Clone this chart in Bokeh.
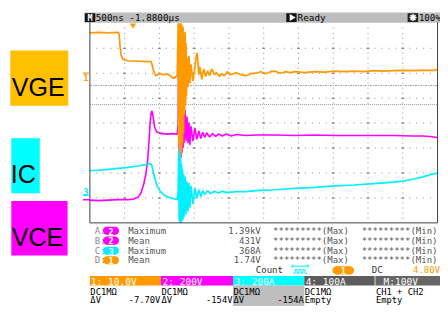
import numpy as np
from bokeh.plotting import figure
from bokeh.models import Range1d
from bokeh.embed import file_html
from bokeh.resources import INLINE
from bokeh.core.properties import value

# ---------------- data ----------------
# CH1 : VGE  (time in microseconds, volts)
ch1_time_us = [-0.621, -0.494, -0.353, -0.212, -0.198, -0.184, -0.169, -0.141, -0.071, 0.071,
               0.212, 0.254, 0.268, 0.297, 0.325, 0.381, 0.438, 0.494, 0.537, 0.579,
               0.621, 0.636,
               0.650, 0.657, 0.664, 0.671, 0.678, 0.685, 0.692, 0.699, 0.706, 0.713,
               0.720, 0.727, 0.734, 0.742, 0.749, 0.756, 0.763, 0.770, 0.777, 0.791,
               0.805, 0.819, 0.833, 0.862, 0.890, 0.918, 0.932, 0.946, 0.960, 0.989,
               1.017, 1.045, 1.073, 1.102, 1.130, 1.172, 1.201, 1.243, 1.271, 1.314,
               1.356, 1.398, 1.441, 1.483, 1.554, 1.624, 1.695, 1.766, 1.836, 1.907,
               1.977, 2.048, 2.119, 2.189, 2.260, 2.330, 2.472, 2.613, 2.754, 2.895,
               3.037, 3.178, 3.319, 3.460, 3.602, 3.743, 3.884, 4.025, 4.167, 4.308,
               4.378]
ch1_volts = [16.2, 16.4, 16.2, 16.4, 15.4, 10.1, 7.0, 5.5, 5.0, 4.8,
             4.6, 4.8, 4.0, 1.0, -1.0, -0.2, -0.6, -0.4, -1.0, -2.1,
             -1.3, -0.6,
             20.0, -28.0, 20.0, -31.8, 20.0, -33.7, 20.0, -31.8, 19.2, -28.0,
             18.5, -24.2, 15.8, -16.6, 16.6, -12.8, 12.0, -9.0, 6.3, -5.5,
             7.0, -4.0, 3.5, -3.2, 2.5, 8.2, 5.5, -0.6, 2.5, -2.5,
             1.7, -1.3, 1.0, -1.0, 1.7, -0.6, 0.2, -1.3, -0.2, -1.0,
             0.6, -0.6, -0.2, 0.2, -0.6, -1.0, -0.2, 0.0, 0.6, -0.2,
             0.6, 0.8, 0.0, 0.6, 0.2, 0.6, 0.2, 0.6, 0.4, 0.8,
             0.6, 0.8, 0.6, 1.0, 0.8, 1.0, 1.1, 1.0, 1.1, 1.1,
             1.3]

# CH2 : VCE (volts)
ch2_time_us = [-0.621, -0.494, -0.353, -0.212, -0.071, 0.000, 0.071, 0.113, 0.155, 0.184,
               0.212, 0.233, 0.247, 0.261, 0.273, 0.290, 0.311, 0.339, 0.381, 0.438,
               0.494, 0.565, 0.636,
               0.650, 0.657, 0.664, 0.671, 0.678, 0.685, 0.692, 0.699, 0.706, 0.713,
               0.720, 0.727, 0.734, 0.749, 0.763, 0.777, 0.791, 0.805, 0.819, 0.833,
               0.862, 0.890, 0.918, 0.946, 0.975, 1.003, 1.031, 1.059, 1.102, 1.144,
               1.187, 1.229, 1.285, 1.342, 1.412, 1.483, 1.624, 1.766, 2.048, 2.330,
               2.613, 2.895, 3.178, 3.460, 3.743, 4.025, 4.167, 4.266, 4.378]
ch2_volts = [-3.8, -7.6, -3.8, 0.0, 0.0, 3.8, 19.0, 49.5, 125.7, 201.9,
             323.8, 491.4, 624.0, 697.1, 712.4, 666.7, 582.9, 544.8, 533.3, 529.5,
             525.7, 529.5, 525.7,
             605.7, 1253.0, 339.0, 1383.0, 301.0, 1330.0, 339.0, 1215.0, 377.0, 1063.0,
             415.0, 910.0, 453.0, 720.0, 469.0, 667.0, 453.0, 621.0, 438.0, 590.0,
             469.0, 575.0, 484.0, 552.0, 491.0, 541.0, 499.0, 537.0, 503.0, 530.0,
             507.0, 526.0, 510.0, 526.0, 510.0, 522.0, 514.0, 518.0, 518.0, 514.0,
             518.0, 514.0, 514.0, 514.0, 514.0, 510.0, 510.0, 507.0, 499.0]

# CH3 : IC (amperes)
ch3_time_us = [-0.621, -0.494, -0.353, -0.212, -0.071, 0.071, 0.184, 0.240, 0.268, 0.297,
               0.325, 0.353, 0.395, 0.438, 0.494, 0.565, 0.636,
               0.650, 0.657, 0.664, 0.671, 0.678, 0.685, 0.692, 0.699, 0.706, 0.713,
               0.720, 0.727, 0.734, 0.749, 0.763, 0.777, 0.791, 0.805, 0.819, 0.833,
               0.862, 0.890, 0.918, 0.946, 0.975, 1.003, 1.031, 1.073, 1.116, 1.172,
               1.229, 1.285, 1.342, 1.483, 1.624, 1.766, 2.048, 2.330, 2.613, 2.895,
               3.178, 3.460, 3.743, 3.884, 4.025, 4.167, 4.308, 4.378]
ch3_amps = [198.1, 201.9, 209.5, 217.1, 224.8, 236.2, 247.6, 255.2, 247.6, 175.2,
            114.3, 68.6, 30.5, 7.6, -11.4, -22.9, -34.3,
            38.1, 342.9, -205.7, 365.7, -221.0, 304.8, -221.0, 251.4, -205.7, 205.7,
            -190.5, 175.2, -175.2, 152.4, -152.4, 114.3, -129.5, 99.0, -99.0, 76.2,
            -68.6, 61.0, -22.9, 45.7, -7.6, 38.1, 7.6, 38.1, 15.2, 34.3,
            19.0, 34.3, 22.9, 30.5, 30.5, 38.1, 45.7, 57.1, 64.8, 76.2,
            83.8, 95.2, 106.7, 114.3, 129.5, 148.6, 171.4, 179.0]

# labels / readouts
side_labels = ["VGE", "IC", "VCE"]
meas_slots = ["A:", "B:", "C:", "D:"]
meas_channels = ["2", "2", "3", "1"]
meas_types = ["Maximum", "Mean", "Maximum", "Mean"]
meas_values = ["1.39kV", "431V", "368A", "1.74V"]
meas_max = ["*********(Max)"] * 4
meas_min = ["*********(Min)"] * 4
ch_titles = ["1: 10.0V", "2:  200V", "3:  200A", "4:  100A", "M:100V"]
ch_coupling = ["DC1M\u03a9", "DC1M\u03a9", "DC1M\u03a9", "DC1M\u03a9", "CH1 + CH2"]
ch_delta = ["-7.70V", "-154V", "-154A", "Empty", "Empty"]
header_time = "500ns -1.8800\u00b5s"
header_state = "Ready"
header_zoom = "100%"
trigger_source = "1"
trigger_coupling = "DC"
trigger_level = "4.80V"

# ---------------- scope settings ----------------
TIME_PER_DIV = 0.5          # us / div
TRIG_DIV = 1.24             # trigger point, divisions from left edge
CH_SCALE = {"ch1": 10.0, "ch2": 200.0, "ch3": 200.0}
CH_GROUND_DIV = {"ch1": 2.0, "ch2": 7.07, "ch3": 6.9}

# ---------------- layout (reference pixel frame) ----------------
W_REF, H_REF = 448, 322
GX0, GX1, GY0, GY1 = 91.0, 445.0, 24.0, 234.0
NX, NY = 10, 8
DX = (GX1 - GX0) / NX
DY = (GY1 - GY0) / NY

C1 = "#FF9900"
C2 = "#FF00FF"
C3 = "#00F0FF"
MONO = "DejaVu Sans Mono"
SANS = "Liberation Sans"

p = figure(width=440, height=306, x_range=Range1d(0, W_REF), y_range=Range1d(H_REF, 0),
           x_axis_type=None, y_axis_type=None, output_backend="svg",
           toolbar_location=None, min_border=0)
p.outline_line_color = None
p.background_fill_color = "white"
p.border_fill_color = "white"

spx = TIME_PER_DIV * NX / (GX1 - GX0)
t0 = -TRIG_DIV * TIME_PER_DIV
p.extra_x_ranges = {"t": Range1d(t0 - GX0 * spx, t0 + (W_REF - GX0) * spx)}
yr = {}
for ch in ("ch1", "ch2", "ch3"):
    gpx = GY0 + CH_GROUND_DIV[ch] * DY
    upp = CH_SCALE[ch] / DY
    yr[ch] = Range1d((gpx - H_REF) * upp, gpx * upp)
p.extra_y_ranges = yr


def txt(x, y, s, color="#000", size=9, align="left", baseline="middle", font=MONO,
        bold=False, **kw):
    p.text(x=[x], y=[y], text=[s], text_color=color, text_font_size=f"{size}px",
           text_align=align, text_baseline=baseline, text_font=value(font),
           text_font_style="bold" if bold else "normal", **kw)


def pill(cx, cy, w, h, color, label):
    p.rect(x=[cx], y=[cy], width=w - h, height=h, fill_color=color, line_color=None)
    p.ellipse(x=[cx - (w - h) / 2, cx + (w - h) / 2], y=[cy, cy], width=h, height=h,
              fill_color=color, line_color=None)
    txt(cx, cy + 0.3, label, "#ffffff", 8.5, align="center", bold=True)


# ---- side labels ----
side_boxes = [(10, 69, 52.7, 110.7, "#FFC000", 11.5, 90.7),
              (11, 40, 145, 202.7, "#00FFFF", 10.5, 183),
              (11, 68.3, 211, 268.3, "#FF00FF", 11.5, 249)]
for (l, r, t, b, col, tx, ty), lab in zip(side_boxes, side_labels):
    p.quad(left=[l], right=[r], top=[t], bottom=[b], fill_color=col, line_color=None)
    txt(tx, ty, lab, "#000000", 25, baseline="alphabetic", font=SANS)

# ---- header bar ----
p.quad(left=[85], right=[W_REF], top=[12.5], bottom=[23.3], fill_color="#bdbdbd", line_color=None)
p.quad(left=[86], right=[96.5], top=[13.3], bottom=[22.7], fill_color="#111111", line_color=None)
txt(91.2, 18.2, "M", "#ffffff", 8.5, align="center", bold=True)
txt(97, 18.2, header_time, "#000000", 9.3)
p.quad(left=[291], right=[301.5], top=[13.3], bottom=[22.7], fill_color="#111111", line_color=None)
p.scatter(x=[296.5], y=[18], marker="triangle", angle=-np.pi / 2, size=7,
          fill_color="#ffffff", line_color=None)
txt(302.5, 18.2, header_state, "#000000", 9.3)
p.quad(left=[414.5], right=[425.3], top=[13.3], bottom=[22.7], fill_color="#222222", line_color=None)
p.scatter(x=[420], y=[18], marker="asterisk", size=7, line_color="#ffffff", line_width=1.5)
txt(426, 18.2, header_zoom, "#000000", 9)

# ---- grid dots ----
gx, gy = [], []
for k in range(1, NY):
    for j in range(1, NX * 5):
        gx.append(GX0 + j * DX / 5)
        gy.append(GY0 + k * DY)
for k in range(1, NX):
    for j in range(1, NY * 5):
        gx.append(GX0 + k * DX)
        gy.append(GY0 + j * DY / 5)
p.rect(x=gx, y=gy, width=1, height=1, width_units="screen", height_units="screen",
       fill_color="#8a8a8a", line_color=None)
ix, iy = [], []
for k in range(1, NY):
    for j in range(1, NX):
        ix.append(GX0 + j * DX)
        iy.append(GY0 + k * DY)
p.rect(x=ix, y=iy, width=3, height=1, width_units="screen", height_units="screen",
       fill_color="#777777", line_color=None)

# cursor lines
p.line(x=[GX0, GX1], y=[89.5, 89.5], line_color="#9a9a9a", line_width=1, line_dash="2 1 1 1")
p.line(x=[GX0, GX1], y=[109.5, 109.5], line_color="#9a9a9a", line_width=1, line_dash="1 1")

# ---- traces ----
p.line(ch2_time_us, ch2_volts, x_range_name="t", y_range_name="ch2", line_color=C2, line_width=1.6)
p.line(ch1_time_us, ch1_volts, x_range_name="t", y_range_name="ch1", line_color=C1, line_width=1.7)
p.line(ch3_time_us, ch3_amps, x_range_name="t", y_range_name="ch3", line_color=C3, line_width=1.7)

# ---- frame ----
p.line(x=[GX0, GX0, GX1, GX1], y=[GY0 - 1, GY1, GY1, GY0 - 1], line_color="#404040", line_width=1)

# trigger position marker (t = 0)
p.scatter(x=[0.0], y=[26], x_range_name="t", marker="inverted_triangle", size=6,
          fill_color=C1, line_color=None)

# ground markers
p.line(x=[84, 90], y=[0, 0], y_range_name="ch1", line_color=C1, line_width=1.2)
p.text(x=[87], y=[0], y_range_name="ch1", text=["1"], text_color=C1, text_font_size="9px",
       text_align="center", text_baseline="top", text_font=value(MONO), text_font_style="bold",
       y_offset=1)
p.line(x=[84, 91], y=[0, 0], y_range_name="ch2", line_color=C2, line_width=1.5)
p.line(x=[84, 90], y=[0, 0], y_range_name="ch3", line_color=C3, line_width=1.2)
p.text(x=[87], y=[0], y_range_name="ch3", text=["3"], text_color=C3, text_font_size="9px",
       text_align="center", text_baseline="bottom", text_font=value(MONO), text_font_style="bold",
       y_offset=0)

# ---- measurement readouts ----
row_y = [242.3, 252.7, 263.3, 273.3]
ch_col = {"1": C1, "2": C2, "3": C3}
for y, slot, ch, kind, val, mx, mn in zip(row_y, meas_slots, meas_channels, meas_types,
                                           meas_values, meas_max, meas_min):
    txt(96, y, slot, "#8a8a8a", 9)
    pill(112.5, y, 16.4, 8.6, ch_col[ch], ch)
    txt(130, y, kind, "#555555", 9)
    txt(265, y, val, "#555555", 9, align="right")
    txt(277.5, y, mx, "#555555", 9)
    txt(367.7, y, mn, "#555555", 9)

# count / trigger row
cy = 284
txt(260, cy, "Count", "#333333", 9)
p.line(x=[297, 297, 297, 313, 313, 313], y=[278, 281, 279.5, 279.5, 278, 281], line_color=C3, line_width=1)
p.line(x=[298, 300, 300, 302, 302, 304, 304, 306, 306, 308, 308, 310, 310, 312],
       y=[287, 287, 283, 283, 287, 287, 283, 283, 287, 287, 283, 283, 287, 287],
       line_color=C3, line_width=1)
pill(349, cy, 22, 8.6, C1, trigger_source)
txt(378, cy, trigger_coupling, "#333333", 9)
txt(420, cy, trigger_level, C1, 9)

# ---- channel bar ----
col_edges = [91, 163.3, 236.7, 309.3, 381.7, W_REF]
col_colors = [C1, C2, "#00FFFF", "#5c5c5c", "#666666"]
title_x = [92, 165, 238.3, 310.7, 390]
for i in range(5):
    p.quad(left=[col_edges[i]], right=[col_edges[i + 1] - (0.8 if i == 3 else 0)], top=[290],
           bottom=[300], fill_color=col_colors[i], line_color=None)
p.quad(left=[col_edges[2]], right=[col_edges[3]], top=[300], bottom=[H_REF],
       fill_color="#bdbdbd", line_color=None)
for i in range(5):
    txt(title_x[i], 295.3, ch_titles[i], "#ffffff", 9.5)
    txt(col_edges[i] + 0.5, 306.3, ch_coupling[i], "#000000", 8.8)
    if i < 3:
        txt(col_edges[i] + 0.5, 315.6, "\u0394V", "#000000", 8.8)
        txt(col_edges[i + 1] - 0.5, 315.6, ch_delta[i], "#000000", 8.8, align="right")
    else:
        txt(col_edges[i] + 0.5, 315.6, ch_delta[i], "#000000", 8.8)

open("out.html", "w").write(file_html(p, INLINE))
